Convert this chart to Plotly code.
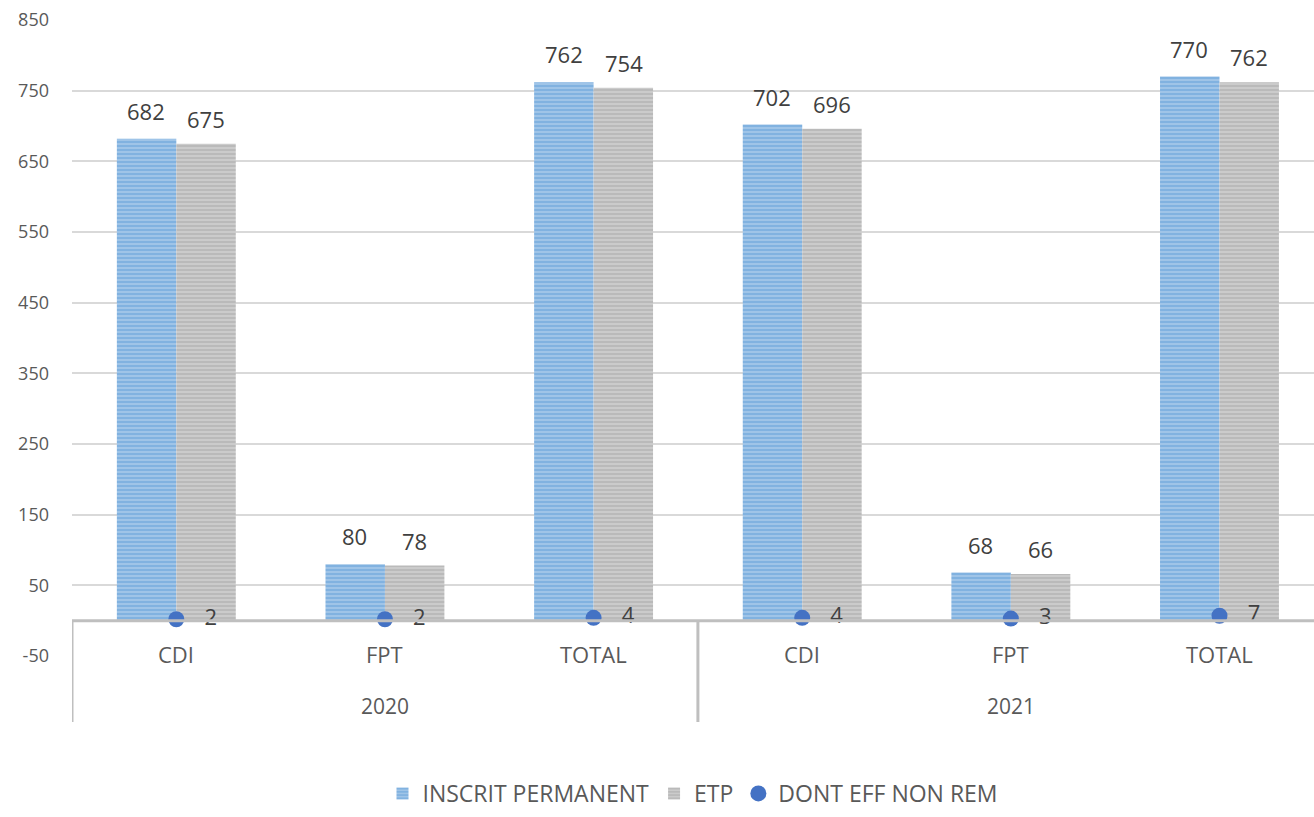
import plotly.graph_objects as go

years = ["2020", "2020", "2020", "2021", "2021", "2021"]
categories = ["CDI", "FPT", "TOTAL", "CDI", "FPT", "TOTAL"]
inscrit = [682, 80, 762, 702, 68, 770]
etp = [675, 78, 754, 696, 66, 762]
non_rem = [2, 2, 4, 4, 3, 7]
y_ticks = [-50, 50, 150, 250, 350, 450, 550, 650, 750, 850]
series_names = ["INSCRIT PERMANENT", "ETP", "DONT EFF NON REM"]

x = list(range(len(categories)))
FONT = "Open Sans"
TXT = "#404040"
TICK = "#595959"

PLOT_TOP, PLOT_BOTTOM = 20, 656
PH = PLOT_BOTTOM - PLOT_TOP

def py(pix):
    return (PLOT_BOTTOM - pix) / PH

fig = go.Figure()
fig.add_trace(go.Bar(
    x=x, y=inscrit, name=series_names[0],
    marker=dict(color="#5b9bd5", line=dict(width=0),
                pattern=dict(shape="-", fgcolor="#5094d3", bgcolor="#b3d0ec", size=4, solidity=0.7)),
))
fig.add_trace(go.Bar(
    x=x, y=etp, name=series_names[1],
    marker=dict(color="#a5a5a5", line=dict(width=0),
                pattern=dict(shape="-", fgcolor="#9e9e9e", bgcolor="#d6d6d6", size=4, solidity=0.7)),
))
fig.add_trace(go.Scatter(
    x=x, y=non_rem, name=series_names[2], mode="markers+text",
    marker=dict(color="#4472c4", size=16),
    text=["   " + str(v) for v in non_rem], textposition="middle right",
    textfont=dict(family=FONT, size=22, color=TXT), cliponaxis=False,
))

# value labels above bars
for i in x:
    fig.add_annotation(x=i, y=inscrit[i], xref="x", yref="y", text=str(inscrit[i]), showarrow=False,
                       xshift=-30, yshift=28, font=dict(family=FONT, size=22, color=TXT))
    fig.add_annotation(x=i, y=etp[i], xref="x", yref="y", text=str(etp[i]), showarrow=False,
                       xshift=30, yshift=25, font=dict(family=FONT, size=22, color=TXT))

# axis lines (category axis crossing at 0)
fig.add_shape(type="line", xref="paper", yref="y", x0=0, x1=1, y0=0, y1=0,
              line=dict(color="#bfbfbf", width=3))
y0_paper = 50 / 900
for xv in [-0.5, 2.5]:
    fig.add_shape(type="line", xref="x", yref="paper", x0=xv, x1=xv, y0=y0_paper, y1=py(722),
                  line=dict(color="#bfbfbf", width=3))

for i, c in enumerate(categories):
    fig.add_annotation(x=i, y=py(654), xref="x", yref="paper", text=c, showarrow=False,
                       font=dict(family=FONT, size=22, color=TICK), yanchor="middle")
for i, yr in [(1, "2020"), (4, "2021")]:
    fig.add_annotation(x=i, y=py(706), xref="x", yref="paper", text=yr, showarrow=False,
                       font=dict(family=FONT, size=21, color=TICK), yanchor="middle")

fig.update_layout(
    width=1314, height=817,
    margin=dict(l=72, r=0, t=PLOT_TOP, b=817 - PLOT_BOTTOM, autoexpand=False),
    plot_bgcolor="white", paper_bgcolor="white",
    barmode="group", bargap=0.43, bargroupgap=0,
    showlegend=True,
    legend=dict(orientation="h", x=0.5, xanchor="center", y=py(815), yanchor="bottom",
                font=dict(family=FONT, size=23, color=TICK), itemwidth=30, tracegroupgap=0),
    xaxis=dict(range=[-0.5, 5.453], showticklabels=False, showgrid=False, zeroline=False,
               showline=False),
    yaxis=dict(range=[-50, 850], tickvals=y_ticks, ticktext=[str(v) for v in y_ticks],
               showgrid=True, gridcolor="#d9d9d9", gridwidth=1.5,
               zeroline=False, showline=False, ticklabelstandoff=22,
               tickfont=dict(family=FONT, size=18, color=TICK)),
)

fig.write_html("out.html")
